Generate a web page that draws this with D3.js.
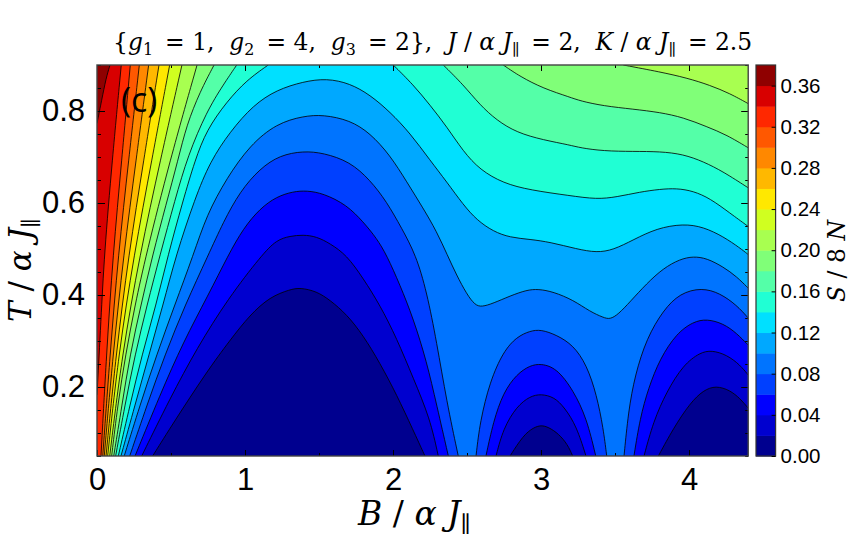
<!DOCTYPE html>
<html><head><meta charset="utf-8">
<script src="https://cdn.jsdelivr.net/npm/d3@7"></script>
<style>html,body{margin:0;background:#fff}svg{display:block}text{white-space:pre}</style>
</head><body><div id="c"></div>
<script>
// Contour level of S/8N, the colour of the band below each level and the axis ticks.
const levels=[0.02,0.04,0.06,0.08,0.10,0.12,0.14,0.16,0.18,0.20,0.22,0.24,0.26,0.28,0.30,0.32,0.34,0.36];
const bandColors=["#00008f","#0000cf","#0000ff","#0040ff","#0074ff","#00a8ff","#00e0ff","#20ffd4","#54ffa8","#80ff78","#a8ff50","#d0ff20","#ffe800","#ffb800","#ff8800","#ff5800","#ff2800","#d80000","#8f0000"];
const barTicks=[0,0.04,0.08,0.12,0.16,0.20,0.24,0.28,0.32,0.36];
const xTicks=[0,1,2,3,4], xMinor=[0.5,1.5,2.5,3.5];
const yTicks=[0.2,0.4,0.6,0.8];
const yMinor=[0.05,0.1,0.15,0.25,0.3,0.35,0.45,0.5,0.55,0.65,0.7,0.75,0.85,0.9];
// Contour traces, [B, T]. Each level: list of regions, each region: list of pieces.
const c02=[[[[.376,.05],[.516,.122],[.741,.233],[.899,.302],[1.034,.357],[1.169,.396],[1.304,.412],[1.372,.416],[1.484,.408],[1.574,.389],[1.687,.358],[1.797,.313],[1.912,.252],[2.025,.183],[2.135,.107],[2.216,.05]]],
 [[[2.791,.05],[2.88,.095],[2.95,.112],[3.0,.117],[3.05,.113],[3.12,.098],[3.18,.075],[3.214,.05]]],
 [[[3.793,.05],[3.894,.11],[4.007,.165],[4.097,.193],[4.182,.203],[4.277,.193],[4.345,.175],[4.4,.154]]]];
const c04=[[[[.302,.05],[.493,.175],[.674,.284],[.887,.393],[1.113,.487],[1.214,.52],[1.304,.528],[1.392,.531],[1.484,.527],[1.574,.512],[1.687,.487],[1.799,.436],[1.912,.378],[2.025,.306],[2.137,.219],[2.25,.132],[2.306,.05]]],
 [[[2.696,.05],[2.745,.11],[2.836,.158],[2.926,.18],[3.0,.185],[3.09,.178],[3.16,.155],[3.24,.115],[3.304,.05]]],
 [[[3.696,.05],[3.759,.125],[3.849,.19],[3.961,.248],[4.074,.275],[4.153,.28],[4.255,.27],[4.345,.248],[4.4,.226]]]];
const c06=[[[[.257,.05],[.426,.183],[.583,.298],[.752,.4],[.887,.487],[.989,.545],[1.101,.588],[1.214,.614],[1.326,.625],[1.417,.627],[1.529,.621],[1.687,.596],[1.799,.559],[1.89,.523],[1.957,.487],[2.047,.422],[2.137,.349],[2.228,.255],[2.295,.161],[2.374,.05]]],
 [[[2.628,.05],[2.678,.125],[2.745,.188],[2.836,.228],[2.926,.247],[3.0,.251],[3.106,.241],[3.218,.193],[3.309,.132],[3.37,.05]]],
 [[[3.628,.05],[3.669,.132],[3.725,.197],[3.804,.262],[3.917,.317],[4.029,.342],[4.12,.348],[4.232,.338],[4.322,.317],[4.4,.291]]]];
const c08=[[[[.221,.05],[.338,.161],[.459,.27],[.595,.378],[.752,.487],[.854,.559],[.966,.625],[1.101,.675],[1.236,.704],[1.394,.713],[1.529,.709],[1.709,.69],[1.845,.65],[1.957,.603],[2.059,.545],[2.155,.487],[2.228,.407],[2.295,.298],[2.363,.168],[2.441,.05]]],
 [[[2.561,.05],[2.588,.125],[2.655,.212],[2.745,.277],[2.836,.309],[2.926,.322],[3.0,.325],[3.106,.313],[3.218,.291],[3.309,.248],[3.376,.183],[3.421,.11],[3.444,.05]]],
 [[[3.561,.05],[3.59,.146],[3.635,.226],[3.714,.306],[3.826,.367],[3.939,.404],[4.086,.416],[4.209,.404],[4.322,.378],[4.4,.35]]]];
const c10=[[[[.184,.05],[.291,.161],[.403,.27],[.525,.378],[.651,.487],[.741,.574],[.876,.654],[1.034,.726],[1.214,.773],[1.394,.789],[1.529,.792],[1.709,.78],[1.845,.752],[1.98,.704],[2.093,.646],[2.205,.588],[2.295,.538],[2.367,.487],[2.43,.443],[2.498,.402],[2.554,.378],[2.599,.374],[2.678,.382],[2.791,.398],[2.903,.411],[2.982,.413],[3.083,.407],[3.218,.389],[3.331,.364],[3.421,.351],[3.466,.347],[3.522,.358],[3.601,.385],[3.714,.425],[3.826,.458],[3.939,.478],[4.029,.484],[4.12,.48],[4.232,.461],[4.322,.44],[4.4,.415]]]];
const c12=[[[[.162,.05],[.257,.161],[.351,.27],[.446,.378],[.534,.487],[.662,.61],[.764,.69],[.899,.755],[1.056,.813],[1.214,.846],[1.394,.864],[1.552,.871],[1.709,.86],[1.845,.835],[1.98,.798],[2.115,.752],[2.25,.693],[2.363,.646],[2.475,.596],[2.566,.563],[2.678,.538],[2.791,.525],[2.926,.521],[3.061,.515],[3.241,.5],[3.376,.492],[3.489,.498],[3.624,.52],[3.781,.545],[3.961,.555],[4.097,.548],[4.232,.527],[4.345,.502],[4.4,.488]]]];
const c14=[[[[.144,.05],[.223,.161],[.304,.27],[.399,.378],[.48,.487],[.581,.605],[.662,.693],[.741,.759],[.876,.82],[1.011,.867],[1.157,.9]],
 [[2.002,.9],[2.137,.857],[2.25,.813],[2.363,.766],[2.475,.712],[2.588,.672],[2.745,.643],[2.926,.628],[3.196,.616],[3.376,.608],[3.511,.613],[3.669,.624],[3.804,.63],[3.917,.632],[4.029,.626],[4.142,.61],[4.277,.578],[4.4,.549]]]];
const c16=[[[[.126,.05],[.189,.161],[.257,.27],[.338,.378],[.426,.487],[.527,.607],[.615,.704],[.741,.799],[.853,.857],[.944,.9]],
 [[2.34,.9],[2.475,.857],[2.588,.813],[2.7,.78],[2.836,.753],[3.016,.737],[3.196,.726],[3.264,.72],[3.421,.713],[3.624,.712],[3.804,.712],[3.961,.706],[4.097,.69],[4.232,.668],[4.4,.633]]]];
const c18=[[[[.113,.05],[.169,.161],[.223,.27],[.297,.378],[.376,.487],[.466,.596],[.547,.693],[.606,.77],[.696,.842],[.791,.9]],
 [[2.745,.9],[2.858,.875],[3.016,.849],[3.196,.83],[3.264,.822],[3.421,.811],[3.624,.804],[3.804,.797],[3.961,.786],[4.12,.766],[4.255,.748],[4.4,.72]]]];
const c20=[[[[.099,.05],[.14,.161],[.193,.27],[.257,.378],[.331,.487],[.493,.693],[.676,.9]],
 [[3.556,.9],[3.804,.885],[3.984,.872],[4.142,.856],[4.277,.838],[4.4,.816]]]];
const c22=[[[[.086,.05],[.169,.27],[.289,.487],[.428,.693],[.574,.9]]]];
const c24=[[[[.072,.05],[.145,.27],[.25,.487],[.37,.693],[.491,.9]]]];
const c26=[[[[.061,.05],[.128,.27],[.214,.487],[.316,.693],[.419,.9]]]];
const c28=[[[[.049,.05],[.108,.27],[.18,.487],[.264,.693],[.349,.9]]]];
const c30=[[[[.039,.05],[.088,.27],[.144,.487],[.214,.693],[.286,.9]]]];
const c32=[[[[.027,.05],[.064,.27],[.108,.487],[.167,.693],[.225,.9]]]];
const c34=[[[[0,.183],[.027,.346],[.049,.487],[.103,.693],[.164,.9]]]];
const c36=[[[[0,.773],[.032,.824],[.061,.871],[.088,.9]]]];
const traces=[c02,c04,c06,c08,c10,c12,c14,c16,c18,c20,c22,c24,c26,c28,c30,c32,c34,c36];

const W=862,H=548;
const x=d3.scaleLinear().domain([0,4.4]).range([97,748.2]);
const y=d3.scaleLinear().domain([0.05,0.9]).range([456,65]);
const yBar=d3.scaleLinear().domain([0,0.38]).range([456,65]);
const svg=d3.select("#c").append("svg").attr("width",W).attr("height",H);
const SANS="'Liberation Sans',Arial,sans-serif", SERIF="'DejaVu Serif','Liberation Serif',serif";

svg.append("clipPath").attr("id","plot").append("rect")
  .attr("x",x(0)).attr("y",y(.9)).attr("width",x(4.4)-x(0)).attr("height",y(.05)-y(.9));
const g=svg.append("g").attr("clip-path","url(#plot)");
g.append("rect").attr("x",x(0)).attr("y",y(.9)).attr("width",x(4.4)-x(0)).attr("height",y(.05)-y(.9)).attr("fill",bandColors[18]);

const line=d3.line().x(d=>x(d[0])).y(d=>y(d[1])).curve(d3.curveBasis);
function regionPath(pieces){
  let s=pieces.map((p,i)=>{const t=line(p);return i?"L"+t.slice(1):t;}).join("");
  const first=pieces[0][0], last=pieces[pieces.length-1].at(-1);
  if(last[1]>=.9) s+=`L${x(4.4)},${y(.9)}`;
  if(last[1]>=.9||last[0]>=4.4) s+=`L${x(4.4)},${y(.05)}`;
  if(first[0]<=0) s+=`L${x(0)},${y(.05)}`;
  return s+"Z";
}
for(let i=levels.length-1;i>=0;i--){
  traces[i].forEach(r=>g.append("path").attr("d",regionPath(r)).attr("fill",bandColors[i]));
}
traces.forEach(t=>t.forEach(r=>r.forEach(p=>
  g.append("path").attr("d",line(p)).attr("fill","none").attr("stroke","#000").attr("stroke-width",0.9).attr("stroke-opacity",0.9))));

// axes
function styleAxis(a){a.select(".domain").remove();a.selectAll("line").attr("stroke","#000").attr("stroke-width",1);
  a.selectAll("text").attr("fill","#000").attr("font-family",SANS);}
const mk=(axis,tr)=>svg.append("g").attr("transform",tr).call(axis).call(styleAxis);
const fx=d3.format("d"), fy=d3.format(".1f");
const xb=mk(d3.axisBottom(x).tickValues(xTicks).tickSize(-6).tickPadding(12).tickFormat(fx),`translate(0,${y(.05)})`);
xb.selectAll("text").attr("font-size",31);
mk(d3.axisBottom(x).tickValues(xMinor).tickSize(-3).tickFormat(""),`translate(0,${y(.05)})`);
mk(d3.axisTop(x).tickValues(xTicks.slice(1)).tickSize(-6).tickFormat(""),`translate(0,${y(.9)})`);
mk(d3.axisTop(x).tickValues(xMinor).tickSize(-3).tickFormat(""),`translate(0,${y(.9)})`);
const yl=mk(d3.axisLeft(y).tickValues(yTicks).tickSize(-8).tickPadding(12).tickFormat(fy),`translate(${x(0)},0)`);
yl.selectAll("text").attr("font-size",31);
mk(d3.axisLeft(y).tickValues(yMinor).tickSize(-4).tickFormat(""),`translate(${x(0)},0)`);
mk(d3.axisRight(y).tickValues(yTicks).tickSize(-7).tickFormat(""),`translate(${x(4.4)},0)`);
mk(d3.axisRight(y).tickValues(yMinor).tickSize(-3).tickFormat(""),`translate(${x(4.4)},0)`);
svg.append("rect").attr("x",x(0)).attr("y",y(.9)).attr("width",x(4.4)-x(0)).attr("height",y(.05)-y(.9))
  .attr("fill","none").attr("stroke","#444").attr("stroke-width",1.4);

// colour bar
const bx=756,bw=19.6;
svg.selectAll("rect.band").data(bandColors).join("rect").attr("class","band")
  .attr("x",bx).attr("width",bw).attr("y",(d,i)=>yBar(i*0.02+0.02)).attr("height",(d,i)=>yBar(i*0.02)-yBar(i*0.02+0.02)+0.5).attr("fill",d=>d);
svg.append("rect").attr("x",bx).attr("y",65).attr("width",bw).attr("height",391).attr("fill","none").attr("stroke","#333").attr("stroke-width",1.2);
const ba=mk(d3.axisRight(yBar).tickValues(barTicks).tickSize(-4).tickPadding(5).tickFormat(d3.format(".2f")),`translate(${bx+bw},0)`);
ba.selectAll("text").attr("font-size",20.5);

// rich text helper
function rich(el,segs,size){
  segs.forEach(([t,k])=>{
    const s=el.append("tspan").text(t);
    if(k==="i") s.attr("font-style","italic");
    if(k==="s"){s.attr("font-size",size*0.68).attr("dy",size*0.22);}
    if(k==="a"){s.attr("dy",-size*0.22).text("\u200a"+t);}
  });
}
const sub=(t)=>[[t,"s"],["\u200a","a"]];
const title=svg.append("text").attr("x",113).attr("y",50).attr("font-family",SERIF).attr("font-size",23.4).attr("fill","#000");
rich(title,[["{"],["g","i"],...sub("1"),[" = 1,  "],["g","i"],...sub("2"),[" = 4,  "],["g","i"],...sub("3"),[" = 2},  "],["J","i"],[" / "],["α","i"],[" "],["J","i"],...sub("∥"),[" = 2,  "],["K","i"],[" / "],["α","i"],[" "],["J","i"],...sub("∥"),[" = 2.5"]],23.4);
const xlab=svg.append("text").attr("x",358).attr("y",525).attr("font-family",SERIF).attr("font-size",33).attr("fill","#000");
rich(xlab,[["B","i"],[" / "],["α","i"],[" "],["J","i"],...sub("∥")],33);
const ylab=svg.append("text").attr("transform","translate(31,322) rotate(-90)").attr("font-family",SERIF).attr("font-size",31).attr("fill","#000");
rich(ylab,[["T","i"],[" / "],["α","i"],[" "],["J","i"],...sub("∥")],31);
const blab=svg.append("text").attr("transform","translate(845,302) rotate(-90)").attr("font-family",SERIF).attr("font-size",23.5).attr("fill","#000");
rich(blab,[["S","i"],[" / "],["8"],[" "],["N","i"]],23.5);
svg.append("text").attr("x",121).attr("y",112).attr("font-family","'Open Sans',sans-serif").attr("font-size",34).attr("fill","#000").text("(c)");
</script></body></html>
